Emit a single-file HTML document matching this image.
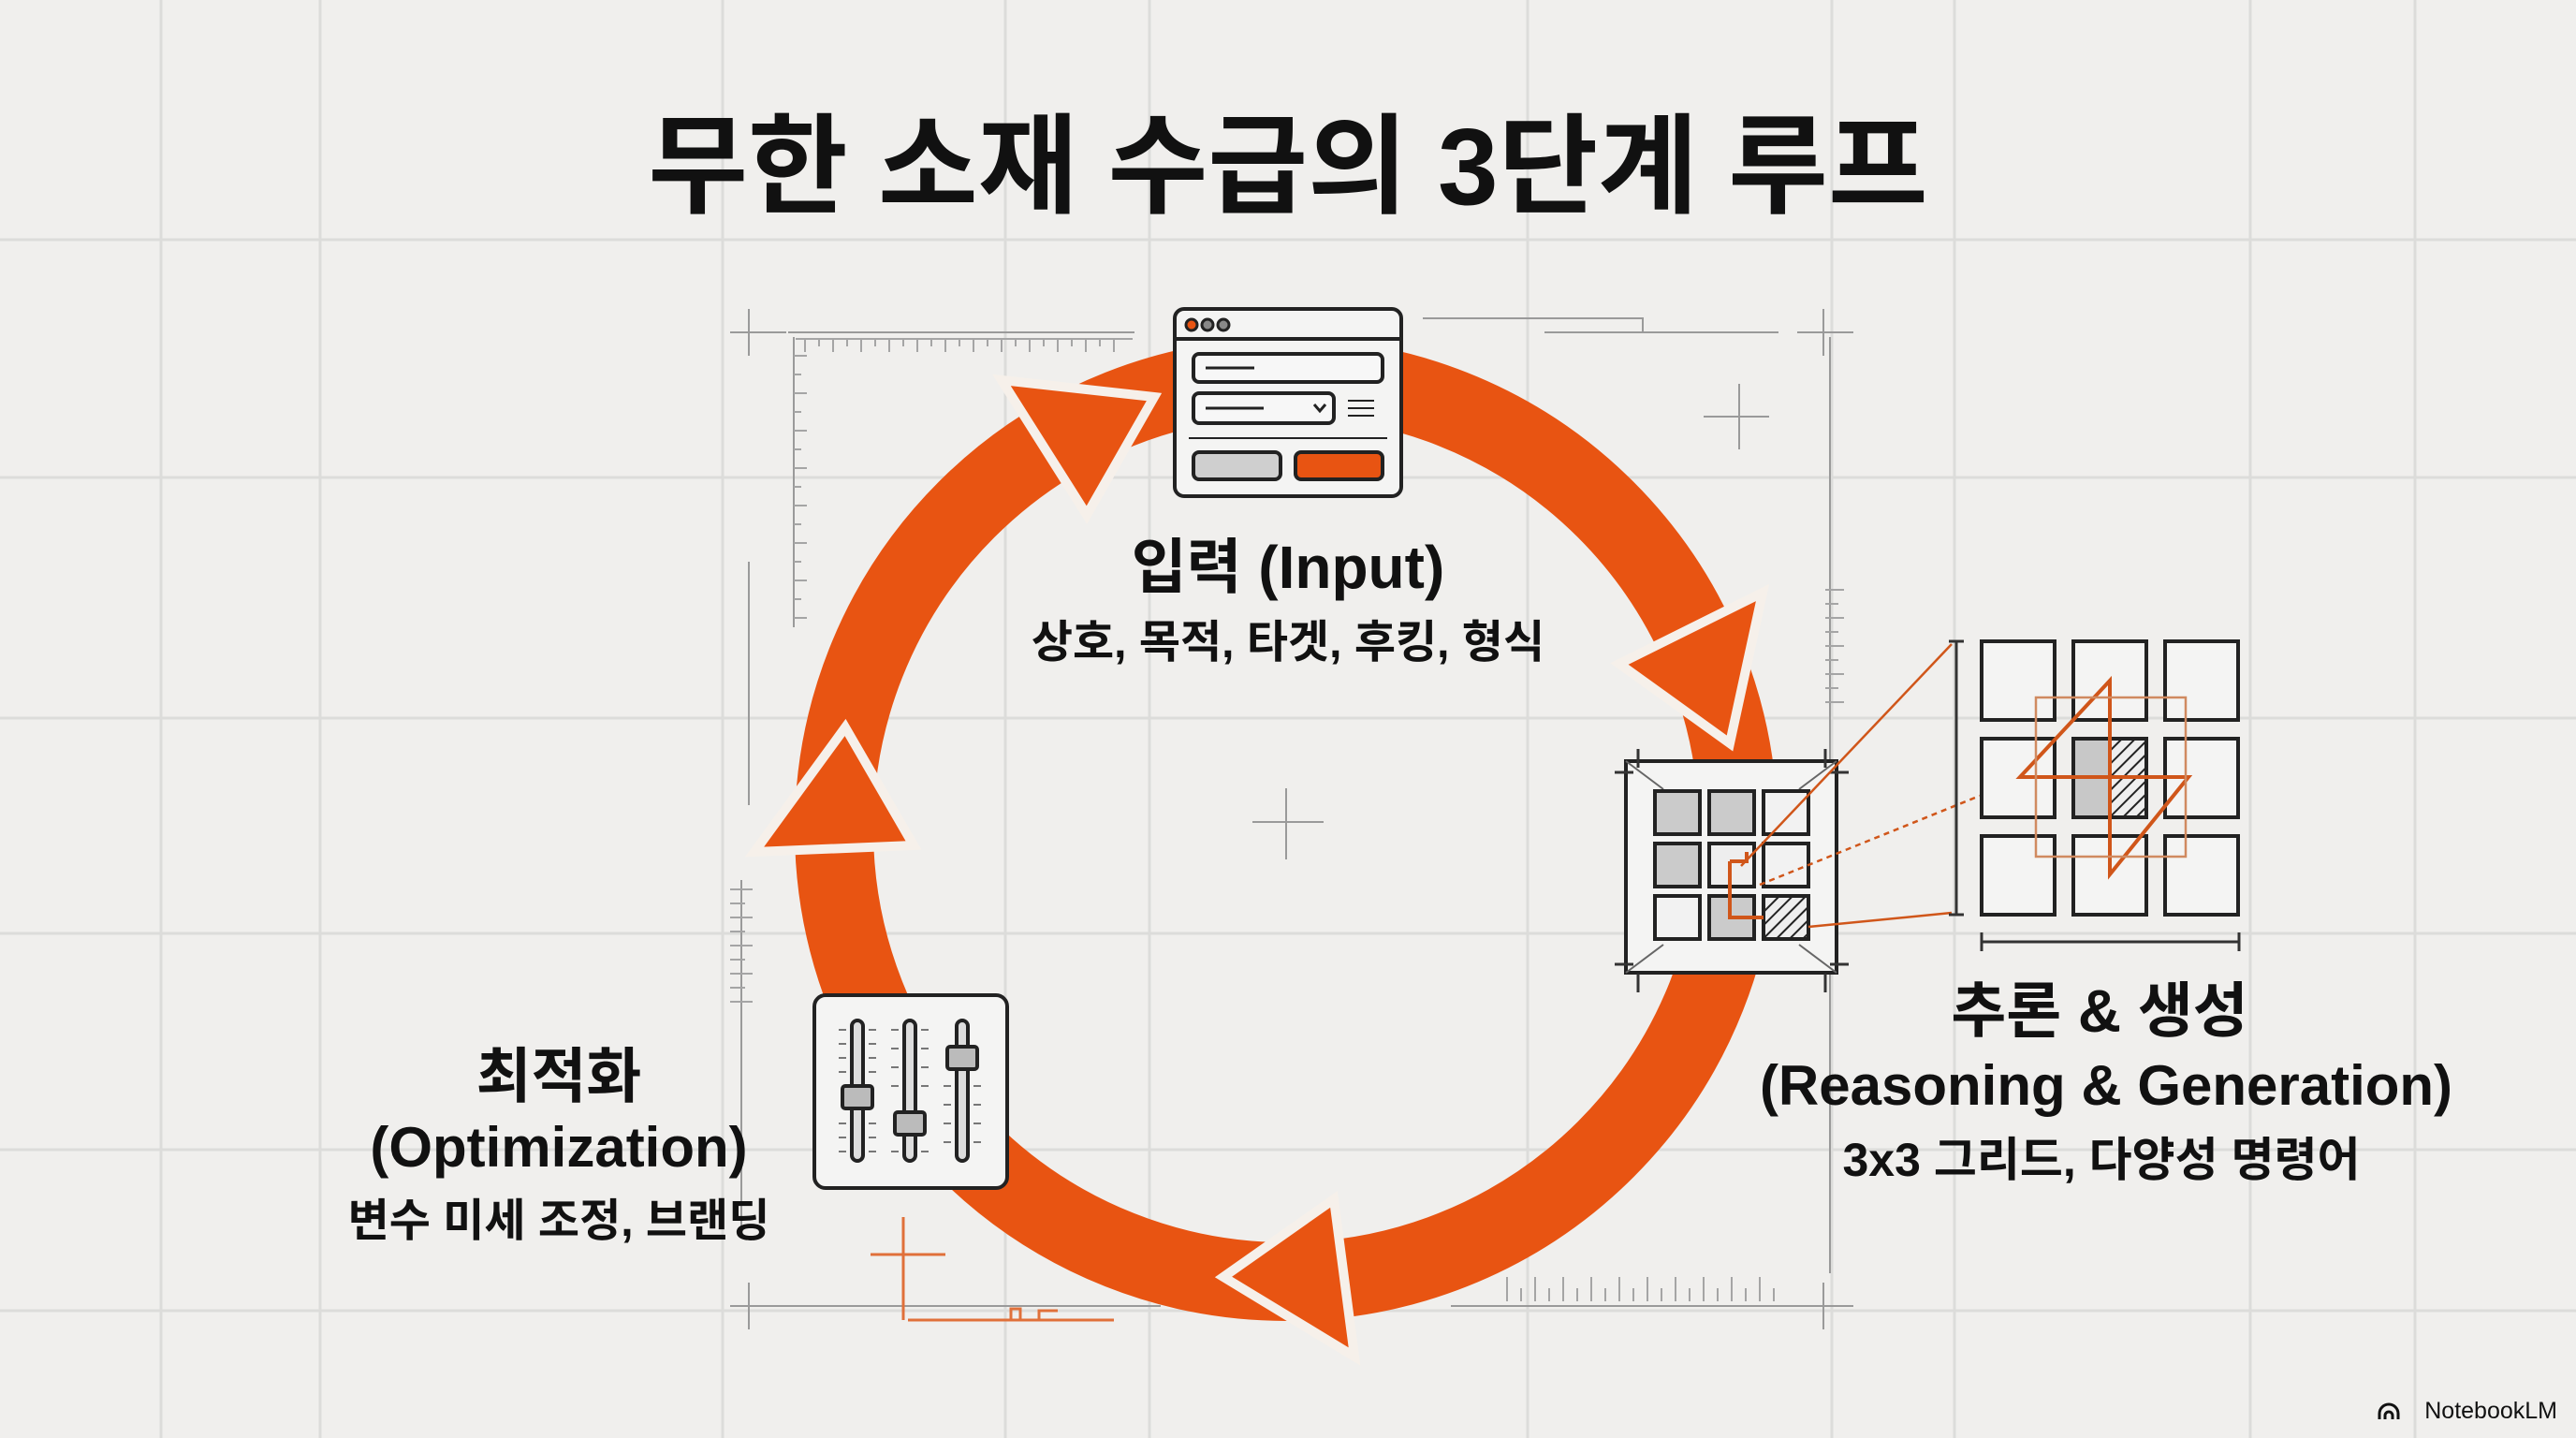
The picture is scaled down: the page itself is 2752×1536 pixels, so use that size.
<!DOCTYPE html>
<html><head><meta charset="utf-8"><style>
html,body{margin:0;padding:0;background:#f0efed;}
svg{display:block;}
text{font-family:"Liberation Sans","Noto Sans CJK KR",sans-serif;font-weight:bold;fill:#111;}
</style></head><body>
<svg width="2752" height="1536" viewBox="0 0 2752 1536" xmlns="http://www.w3.org/2000/svg">
<defs>
<pattern id="hatch" width="10" height="10" patternUnits="userSpaceOnUse" patternTransform="rotate(45)">
<rect width="10" height="10" fill="#eee"/><line x1="0" y1="0" x2="0" y2="10" stroke="#222" stroke-width="4"/></pattern>
</defs>
<rect width="2752" height="1536" fill="#f0efed"/>
<g stroke="#dcdcda" stroke-width="3">
<line x1="172" y1="0" x2="172" y2="1536"/><line x1="342" y1="0" x2="342" y2="1536"/>
<line x1="772" y1="0" x2="772" y2="1536"/><line x1="1074" y1="0" x2="1074" y2="1536"/>
<line x1="1228" y1="0" x2="1228" y2="1536"/><line x1="1632" y1="0" x2="1632" y2="1536"/>
<line x1="1957" y1="0" x2="1957" y2="1536"/><line x1="2088" y1="0" x2="2088" y2="1536"/>
<line x1="2404" y1="0" x2="2404" y2="1536"/><line x1="2580" y1="0" x2="2580" y2="1536"/>
<line x1="0" y1="256" x2="2752" y2="256"/><line x1="0" y1="510" x2="2752" y2="510"/>
<line x1="0" y1="767" x2="2752" y2="767"/><line x1="0" y1="997" x2="2752" y2="997"/>
<line x1="0" y1="1228" x2="2752" y2="1228"/><line x1="0" y1="1400" x2="2752" y2="1400"/>
</g>
<!-- blueprint decorations -->
<g stroke="#9a9a9a" stroke-width="2" fill="none">
<path d="M780 355h60M800 330v50M1920 355h60M1948 330v50M780 1395h60M800 1370v50M1920 1395h60M1948 1370v50"/>
<path d="M1820 445h70M1858 410v70M1338 878h76M1374 842v76"/>
<path d="M842 355h370M1650 355h250M1655 340h100v15M840 1395h400M1550 1395h390"/>
<path d="M848 360v310M1955 360v1000M800 600v260M792 940v380"/>
<path d="M1520 340h140"/>
</g>
<g stroke="#a5a5a5" stroke-width="2">
<path d="M850 362h360M860 362v14M875 362v8M890 362v14M905 362v8M920 362v14M935 362v8M950 362v14M965 362v8M980 362v14M995 362v8M1010 362v14M1025 362v8M1040 362v14M1055 362v8M1070 362v14M1085 362v8M1100 362v14M1115 362v8M1130 362v14M1145 362v8M1160 362v14M1175 362v8M1190 362v14"/>
<path d="M848 380h14M848 400h8M848 420h14M848 440h8M848 460h14M848 480h8M848 500h14M848 520h8M848 540h14M848 560h8M848 580h14M848 600h8M848 620h14M848 640h8M848 660h14"/>
<path d="M1610 1390v-26M1625 1390v-14M1640 1390v-26M1655 1390v-14M1670 1390v-26M1685 1390v-14M1700 1390v-26M1715 1390v-14M1730 1390v-26M1745 1390v-14M1760 1390v-26M1775 1390v-14M1790 1390v-26M1805 1390v-14M1820 1390v-26M1835 1390v-14M1850 1390v-26M1865 1390v-14M1880 1390v-26M1895 1390v-14"/>
<path d="M1950 630h20M1950 645h14M1950 660h20M1950 675h14M1950 690h20M1950 705h14M1950 720h20M1950 735h14M1950 750h20"/>
<path d="M780 950h24M780 965h16M780 980h24M780 995h16M780 1010h24M780 1025h16M780 1040h24M780 1055h16M780 1070h24"/>
</g>
<g stroke="#e0703a" stroke-width="3" fill="none">
<path d="M930 1340h80M965 1300v110M970 1410h220M1080 1410v-12h10v12M1110 1410v-10h20"/>
</g>
<!-- title -->
<text x="1376" y="218" font-size="116" text-anchor="middle">무한 소재 수급의 3단계 루프</text>
<!-- ring -->
<circle cx="1374" cy="886" r="483" fill="none" stroke="#e85412" stroke-width="84"/>
<g fill="#e85412" stroke="#f6f0ea" stroke-width="10" stroke-linejoin="miter">
<polygon points="1233,424 1070,406 1161,550"/>
<polygon points="1848,794 1883,633 1730,709"/>
<polygon points="1307,1364 1447,1449 1425,1281"/>
<polygon points="903,777 806,910 976,903"/>
</g>
<!-- input box -->
<g stroke="#222" stroke-width="4">
<rect x="1255" y="330" width="242" height="200" rx="10" fill="#f4f4f3"/>
<line x1="1255" y1="362" x2="1497" y2="362"/>
<circle cx="1273" cy="347" r="6" fill="#e85412" stroke-width="3"/>
<circle cx="1290" cy="347" r="6" fill="#888" stroke-width="3"/>
<circle cx="1307" cy="347" r="6" fill="#888" stroke-width="3"/>
<rect x="1275" y="378" width="202" height="30" rx="6" fill="#f7f7f7"/>
<line x1="1288" y1="393" x2="1340" y2="393" stroke-width="3"/>
<rect x="1275" y="420" width="150" height="32" rx="6" fill="#f7f7f7"/>
<line x1="1288" y1="436" x2="1350" y2="436" stroke-width="3"/>
<path d="M1404 432l6 7 6-7" fill="none" stroke-width="3"/>
<path d="M1440 428h28M1440 436h28M1440 444h28" stroke-width="2"/>
<line x1="1270" y1="468" x2="1482" y2="468" stroke-width="2"/>
<rect x="1275" y="483" width="93" height="29" rx="6" fill="#cfcfcf"/>
<rect x="1384" y="483" width="93" height="29" rx="6" fill="#e85412"/>
</g>
<!-- grid box -->
<g stroke="#222" stroke-width="4">
<rect x="1737" y="813" width="225" height="226" fill="#f4f4f3"/>
<path d="M1737 813l40 30M1962 813l-40 30M1737 1039l40-30M1962 1039l-40-30" stroke-width="2" stroke="#666"/>
<rect x="1768" y="845" width="48" height="46" fill="#cbcbcb"/>
<rect x="1826" y="845" width="48" height="46" fill="#cbcbcb"/>
<rect x="1884" y="845" width="48" height="46" fill="#f2f2f2"/>
<rect x="1768" y="901" width="48" height="46" fill="#cbcbcb"/>
<rect x="1826" y="901" width="48" height="46" fill="#eee"/>
<rect x="1884" y="901" width="48" height="46" fill="#f2f2f2"/>
<rect x="1768" y="957" width="48" height="46" fill="#f2f2f2"/>
<rect x="1826" y="957" width="48" height="46" fill="#cbcbcb"/>
<rect x="1884" y="957" width="48" height="46" fill="url(#hatch)"/>
</g>
<g stroke="#333" stroke-width="3">
<path d="M1750 800v20M1950 800v20M1725 825h20M1955 825h20M1725 1030h20M1955 1030h20M1750 1040v20M1950 1040v20"/>
</g>
<path d="M1848 920h18v-10M1848 920v60h36" fill="none" stroke="#d0561a" stroke-width="4"/>
<g stroke="#d0561a" stroke-width="2.5" fill="none">
<line x1="1860" y1="925" x2="2085" y2="688"/>
<line x1="1932" y1="990" x2="2085" y2="975"/>
<line x1="1880" y1="945" x2="2115" y2="850" stroke-dasharray="6 5"/>
</g>
<!-- big grid -->
<g stroke="#222" stroke-width="4" fill="#f4f4f3">
<rect x="2117" y="685" width="78" height="84"/><rect x="2215" y="685" width="78" height="84"/><rect x="2313" y="685" width="78" height="84"/>
<rect x="2117" y="789" width="78" height="84"/><rect x="2215" y="789" width="39" height="84" fill="#c8c8c8" stroke="none"/><rect x="2254" y="789" width="39" height="84" fill="url(#hatch)" stroke="none"/><rect x="2215" y="789" width="78" height="84" fill="none"/><rect x="2313" y="789" width="78" height="84"/>
<rect x="2117" y="893" width="78" height="84"/><rect x="2215" y="893" width="78" height="84"/><rect x="2313" y="893" width="78" height="84"/>
</g>
<g stroke="#d0561a" stroke-width="4" fill="none">
<path d="M2254 727L2158 830h180l-84 104z"/>
</g>
<g stroke="#d08a60" stroke-width="2.5" fill="none">
<rect x="2175" y="745" width="160" height="170"/>
</g>
<g stroke="#333" stroke-width="3">
<path d="M2090 685v292M2082 685h16M2082 977h16M2117 1006h275M2117 996v20M2392 996v20"/>
</g>
<!-- slider box -->
<g stroke="#222" stroke-width="4">
<rect x="870" y="1063" width="206" height="206" rx="12" fill="#f4f4f3"/>
<rect x="910" y="1090" width="12" height="150" rx="6" fill="#ddd"/>
<rect x="966" y="1090" width="12" height="150" rx="6" fill="#ddd"/>
<rect x="1022" y="1090" width="12" height="150" rx="6" fill="#ddd"/>
<rect x="900" y="1160" width="32" height="24" rx="3" fill="#bbb"/>
<rect x="956" y="1188" width="32" height="24" rx="3" fill="#bbb"/>
<rect x="1012" y="1118" width="32" height="24" rx="3" fill="#bbb"/>
</g>
<g stroke="#777" stroke-width="2">
<path d="M896 1100h8M896 1115h8M896 1130h8M896 1145h8M896 1200h8M896 1215h8M896 1230h8M928 1100h8M928 1115h8M928 1130h8M928 1145h8M928 1200h8M928 1215h8M928 1230h8M952 1100h8M952 1120h8M952 1140h8M952 1160h8M952 1230h8M984 1100h8M984 1120h8M984 1140h8M984 1160h8M984 1230h8M1008 1160h8M1008 1180h8M1008 1200h8M1008 1220h8M1040 1160h8M1040 1180h8M1040 1200h8M1040 1220h8"/>
</g>
<!-- labels -->
<text x="1376" y="628" font-size="64" text-anchor="middle">입력 (Input)</text>
<text x="1376" y="702" font-size="48" text-anchor="middle">상호, 목적, 타겟, 후킹, 형식</text>
<text x="2243" y="1102" font-size="64" text-anchor="middle">추론 &amp; 생성</text>
<text x="2250" y="1180" font-size="60" text-anchor="middle">(Reasoning &amp; Generation)</text>
<text x="2245" y="1256" font-size="50" text-anchor="middle">3x3 그리드, 다양성 명령어</text>
<text x="597" y="1172" font-size="64" text-anchor="middle">최적화</text>
<text x="597" y="1246" font-size="60" text-anchor="middle">(Optimization)</text>
<text x="597" y="1320" font-size="48" text-anchor="middle">변수 미세 조정, 브랜딩</text>
<text x="2732" y="1515" font-size="25" text-anchor="end" style="font-weight:normal">NotebookLM</text>
<path d="M2542 1516v-6a10 10 0 0 1 20 0v6M2548 1516v-4a4 4 0 0 1 8 0v4" fill="none" stroke="#111" stroke-width="3"/>
</svg>
</body></html>
